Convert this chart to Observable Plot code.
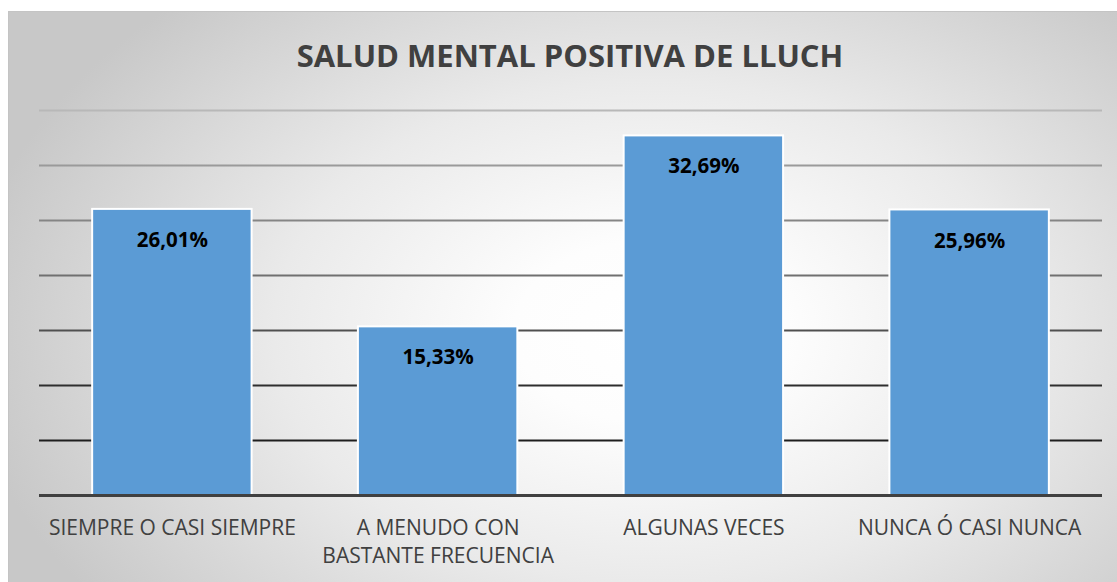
<!DOCTYPE html>
<html>
<head>
<meta charset="utf-8">
<script src="https://cdn.jsdelivr.net/npm/d3@7"></script>
<script src="https://cdn.jsdelivr.net/npm/@observablehq/plot@0.6"></script>
<style>
  html, body { margin: 0; padding: 0; background: #fff; width: 1117px; height: 582px; overflow: hidden; }
  #card {
    position: absolute; left: 8px; top: 11px; width: 1109px; height: 571px;
    border-left: 1px solid #c4c4c4; border-top: 1px solid #c4c4c4; box-sizing: border-box;
    background: radial-gradient(ellipse 62% 80% at 58% 56%, #ffffff 0%, #fdfdfd 20%, #eaeaea 55%, #c8c8c8 100%);
    font-family: "Open Sans", sans-serif;
  }
  #title {
    position: absolute; left: 7px; top: 23px; width: 100%; text-align: center;
    font-size: 31px; font-weight: bold; color: #404040; line-height: 40px;
  }
  #chart { position: absolute; left: -1px; top: 78px; }
</style>
</head>
<body>
<div id="card">
  <div id="title">SALUD MENTAL POSITIVA DE LLUCH</div>
  <div id="chart"></div>
</div>
<script>
const categories = ["SIEMPRE O CASI SIEMPRE", "A MENUDO CON BASTANTE FRECUENCIA", "ALGUNAS VECES", "NUNCA Ó CASI NUNCA"];
const tickLabels = ["SIEMPRE O CASI SIEMPRE", "A MENUDO CON\nBASTANTE FRECUENCIA", "ALGUNAS VECES", "NUNCA Ó CASI NUNCA"];
const values = [26.01, 15.33, 32.69, 25.96];
const valueLabels = ["26,01%", "15,33%", "32,69%", "25,96%"];
const gridTicks = [5, 10, 15, 20, 25, 30, 35];
const gridColors = ["#1e1e1e", "#2e2e2e", "#505050", "#707070", "#858585", "#9a9a9a", "#b8b8b8"];

const data = categories.map((c, i) => ({cat: c, value: values[i], label: valueLabels[i]}));
const grid = gridTicks.map((t, i) => ({t, color: gridColors[i]}));

const chart = Plot.plot({
  width: 1109,
  height: 493,
  marginLeft: 31,
  marginRight: 15,
  marginTop: 20,
  marginBottom: 88,
  style: {background: "transparent", fontFamily: "'Open Sans', sans-serif", overflow: "visible"},
  x: {domain: categories, paddingInner: 0.4, paddingOuter: 0.2, round: false, label: null},
  y: {domain: [0, 35], axis: null},
  color: {type: "identity"},
  marks: [
    Plot.ruleY(grid, {y: "t", stroke: "color", strokeWidth: 2}),
    Plot.barY(data, {x: "cat", y: "value", fill: "#5b9bd5", stroke: "#ffffff", strokeWidth: 2}),
    Plot.ruleY([0], {stroke: "#404040", strokeWidth: 3}),
    Plot.text(data, {x: "cat", y: "value", text: "label", dy: 31, fontWeight: "bold", fontSize: 20.5, fill: "#000"}),
    Plot.axisX({
      tickSize: 0, tickPadding: 20, fontSize: 21, fill: "#404040", lineHeight: 1.33,
      tickFormat: d => tickLabels[categories.indexOf(d)], label: null
    })
  ]
});
document.getElementById("chart").appendChild(chart);
</script>
</body>
</html>
